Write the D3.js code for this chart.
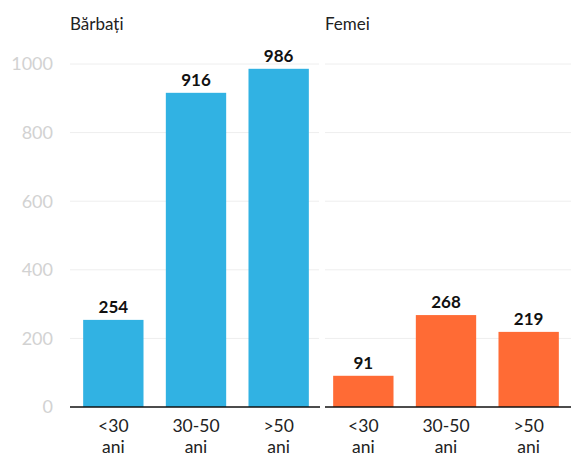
<!DOCTYPE html>
<html lang="ro">
<head>
  <meta charset="UTF-8">
  <title>Bărbați / Femei</title>
  <style>
    body { margin: 0; background: #fff; }
    text { font-family: Lato, "Noto Sans", sans-serif; }
  </style>
</head>
<body>
  <script src="https://d3js.org/d3.v7.min.js"></script>
  <script>
    // date
    const categories = ["<30 ani", "30-50 ani", ">50 ani"];
    const barbati = [254, 916, 986];
    const femei = [91, 268, 219];
    const panelTitles = ["Bărbați", "Femei"];
    const yTicks = [0, 200, 400, 600, 800, 1000];

    const svgWidth = 571, svgHeight = 457;

    const svg = d3.select("body").append("svg")
      .attr("width", svgWidth)
      .attr("height", svgHeight);

    const y = d3.scaleLinear().domain([0, 1000]).range([407, 64]);

    // y-as labels
    svg.append("g").selectAll("text").data(yTicks).enter().append("text")
      .attr("x", 53)
      .attr("y", d => y(d))
      .attr("dy", "0.36em")
      .attr("text-anchor", "end")
      .attr("fill", "#d2d2d2")
      .style("font-size", "18px")
      .text(d => d);

    const panels = [
      { title: panelTitles[0], values: barbati, color: "#31b2e3", x0: 72, grid: [70, 319], base: [70, 320] },
      { title: panelTitles[1], values: femei, color: "#ff6b35", x0: 322, grid: [325, 571], base: [325, 571] }
    ];

    panels.forEach(p => {
      const g = svg.append("g");
      const x = d3.scaleBand()
        .domain(categories)
        .range([p.x0, p.x0 + 248])
        .paddingInner(0.27)
        .paddingOuter(0.135);

      // gridlines
      g.selectAll(".grid").data(yTicks.slice(1)).enter().append("line")
        .attr("x1", p.grid[0]).attr("x2", p.grid[1])
        .attr("y1", d => y(d)).attr("y2", d => y(d))
        .attr("stroke", "#eeeeee")
        .attr("stroke-width", 1);

      g.append("text")
        .attr("x", p.grid[0])
        .attr("y", 30)
        .style("font-size", "17px")
        .attr("fill", "#222")
        .text(p.title);

      const data = categories.map((c, i) => ({ c, v: p.values[i] }));

      g.selectAll("rect").data(data).enter().append("rect")
        .attr("x", d => x(d.c))
        .attr("width", x.bandwidth())
        .attr("y", d => y(d.v))
        .attr("height", d => y(0) - y(d.v))
        .attr("fill", p.color);

      g.selectAll(".val").data(data).enter().append("text")
        .attr("x", d => x(d.c) + x.bandwidth() / 2)
        .attr("y", d => y(d.v) - 7)
        .attr("text-anchor", "middle")
        .style("font-size", "17px")
        .style("font-weight", "bold")
        .attr("fill", "#111")
        .text(d => d.v);

      // baseline
      g.append("line")
        .attr("x1", p.base[0]).attr("x2", p.base[1])
        .attr("y1", y(0)).attr("y2", y(0))
        .attr("stroke", "#111")
        .attr("stroke-width", 1.5);

      // categorie labels op twee regels
      const lab = g.selectAll(".cat").data(categories).enter().append("text")
        .attr("text-anchor", "middle")
        .style("font-size", "17.5px")
        .attr("fill", "#222");
      lab.each(function (d) {
        const parts = d.split(" ");
        const t = d3.select(this);
        parts.forEach((s, i) => {
          t.append("tspan")
            .attr("x", x(d) + x.bandwidth() / 2)
            .attr("y", 432 + i * 21)
            .text(s);
        });
      });
    });
  </script>
</body>
</html>
